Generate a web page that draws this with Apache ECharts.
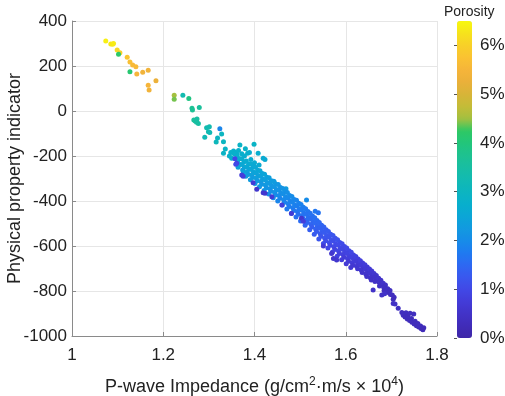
<!DOCTYPE html>
<html>
<head>
<meta charset="utf-8">
<script src="https://cdn.jsdelivr.net/npm/echarts@6/dist/echarts.min.js"></script>
<style>
  html, body { margin: 0; padding: 0; background: #fff; }
  #chart { width: 505px; height: 396px; }
</style>
</head>
<body>
<div id="chart"></div>
<script>
// [impedance (x1e4), physical property indicator, porosity %]
var upperPoints = [
  [1.074, 311, 6.4], [1.085, 298, 6.3], [1.089, 297, 6.3], [1.091, 300, 6.35],
  [1.099, 271, 6.1], [1.105, 259, 6.0], [1.102, 252, 4.2], [1.121, 239, 5.8],
  [1.127, 218, 5.7], [1.133, 204, 5.6], [1.140, 197, 5.6], [1.127, 175, 4.1],
  [1.142, 164, 5.5], [1.155, 172, 5.4], [1.167, 181, 5.4], [1.184, 135, 5.3],
  [1.167, 114, 5.5], [1.169, 93, 5.4], [1.224, 70, 4.5], [1.224, 52, 4.4],
  [1.243, 70, 3.3], [1.256, 56, 3.9], [1.263, 12, 3.7], [1.264, 5, 3.7],
  [1.279, 16, 3.6], [1.267, -40, 3.6], [1.270, -44, 3.6], [1.274, -35, 3.5],
  [1.277, -56, 3.5], [1.273, -50, 3.5], [1.295, -74, 3.3], [1.301, -70, 3.3],
  [1.299, -92, 3.3], [1.302, -95, 3.2], [1.291, -117, 3.2], [1.324, -79, 1.9],
  [1.328, -102, 3.0], [1.316, -138, 3.1], [1.319, -120, 3.0], [1.332, -137, 3.0],
  [1.336, -169, 2.9], [1.332, -188, 2.9], [1.348, -184, 2.8], [1.354, -178, 2.8],
  [1.358, -184, 2.8], [1.361, -192, 2.7], [1.356, -191, 2.8], [1.368, -151, 2.9],
  [1.399, -148, 2.9], [1.408, -188, 2.7], [1.385, -188, 2.8], [1.389, -184, 2.7],
  [1.423, -215, 2.6], [1.419, -210, 2.6], [1.443, -314, 2.4], [1.469, -345, 2.3],
  [1.514, -396, 2.0], [1.533, -445, 1.7], [1.540, -452, 1.65],
  [1.345, -200, 2.8], [1.350, -210, 2.75], [1.365, -175, 2.8], [1.372, -190, 2.75],
  [1.378, -200, 2.7], [1.392, -215, 2.65], [1.400, -230, 2.6], [1.410, -240, 2.6],
  [1.380, -168, 2.85]
];

var bandPoints = [
  [1.362, -200, 2.75], [1.367, -212, 2.7], [1.363, -225, 2.6], [1.368, -238, 2.5], [1.364, -250, 2.45],
  [1.372, -212, 2.7], [1.377, -226, 2.65], [1.373, -238, 2.55], [1.378, -250, 2.5], [1.374, -262, 2.35], [1.376, -272, 2.4],
  [1.382, -222, 2.65], [1.387, -236, 2.6], [1.383, -248, 2.55], [1.388, -258, 2.5], [1.384, -270, 2.4], [1.386, -282, 2.3], [1.381, -290, 2.35],
  [1.392, -236, 2.6], [1.397, -248, 2.55], [1.393, -260, 2.5], [1.398, -272, 2.45], [1.394, -283, 2.4], [1.396, -295, 2.3], [1.391, -306, 2.3],
  [1.402, -250, 2.55], [1.407, -263, 2.5], [1.403, -275, 2.45], [1.408, -287, 2.4], [1.404, -298, 2.35], [1.406, -310, 2.25], [1.401, -322, 2.25],
  [1.412, -265, 2.5], [1.417, -278, 2.45], [1.413, -290, 2.4], [1.418, -302, 2.35], [1.414, -313, 2.3], [1.416, -325, 2.2], [1.411, -337, 2.2],
  [1.422, -281, 2.45], [1.427, -294, 2.4], [1.423, -306, 2.35], [1.428, -318, 2.3], [1.424, -329, 2.25], [1.426, -341, 2.15], [1.421, -353, 2.15],
  [1.432, -297, 2.35], [1.437, -310, 2.3], [1.433, -322, 2.25], [1.438, -334, 2.2], [1.434, -345, 2.15], [1.436, -357, 2.05], [1.431, -369, 2.05],
  [1.442, -312, 2.3], [1.447, -325, 2.25], [1.443, -337, 2.2], [1.448, -349, 2.15], [1.444, -361, 2.1], [1.446, -373, 2.0], [1.441, -385, 2.0],
  [1.452, -327, 2.2], [1.457, -340, 2.15], [1.453, -352, 2.1], [1.458, -364, 2.05], [1.454, -376, 2.0], [1.456, -388, 1.9], [1.451, -400, 1.9],
  [1.462, -344, 2.15], [1.467, -357, 2.1], [1.463, -369, 2.05], [1.468, -382, 2.0], [1.464, -394, 1.95], [1.466, -406, 1.85], [1.461, -418, 1.85],
  [1.472, -362, 2.05], [1.477, -375, 2.0], [1.473, -387, 1.95], [1.478, -400, 1.9], [1.474, -412, 1.85], [1.476, -424, 1.75], [1.471, -436, 1.75],
  [1.482, -380, 2.0], [1.487, -393, 1.95], [1.483, -405, 1.9], [1.488, -418, 1.85], [1.484, -430, 1.8], [1.486, -442, 1.7], [1.481, -454, 1.7],
  [1.492, -397, 1.9], [1.497, -410, 1.85], [1.493, -422, 1.8], [1.498, -435, 1.75], [1.494, -447, 1.7], [1.496, -459, 1.6], [1.491, -471, 1.6],
  [1.502, -415, 1.85], [1.507, -428, 1.8], [1.503, -440, 1.75], [1.508, -453, 1.7], [1.504, -465, 1.65], [1.506, -477, 1.55], [1.501, -489, 1.55],
  [1.512, -434, 1.75], [1.517, -447, 1.7], [1.513, -459, 1.65], [1.518, -472, 1.6], [1.514, -484, 1.55], [1.516, -496, 1.45], [1.511, -508, 1.45],
  [1.522, -454, 1.65], [1.527, -467, 1.6], [1.523, -479, 1.55], [1.528, -492, 1.5], [1.524, -504, 1.45], [1.526, -516, 1.35], [1.521, -528, 1.35],
  [1.532, -474, 1.6], [1.537, -487, 1.55], [1.533, -499, 1.5], [1.538, -512, 1.45], [1.534, -524, 1.4], [1.536, -536, 1.3], [1.531, -548, 1.3],
  [1.542, -495, 1.5], [1.547, -508, 1.45], [1.543, -520, 1.4], [1.548, -533, 1.35], [1.544, -545, 1.3], [1.546, -557, 1.2], [1.541, -569, 1.2],
  [1.552, -515, 1.4], [1.557, -528, 1.35], [1.553, -540, 1.3], [1.558, -553, 1.25], [1.554, -565, 1.2], [1.556, -577, 1.1], [1.551, -589, 1.1],
  [1.562, -535, 1.3], [1.567, -548, 1.25], [1.563, -560, 1.2], [1.568, -573, 1.15], [1.564, -585, 1.1], [1.566, -597, 1.0], [1.561, -609, 1.0],
  [1.572, -553, 1.2], [1.577, -566, 1.15], [1.573, -578, 1.1], [1.578, -591, 1.05], [1.574, -603, 1.0], [1.576, -615, 0.9], [1.571, -627, 0.9],
  [1.582, -572, 1.15], [1.587, -584, 1.1], [1.583, -596, 1.05], [1.588, -609, 1.0], [1.584, -621, 0.95], [1.586, -633, 0.85], [1.581, -645, 0.85],
  [1.592, -590, 1.05], [1.597, -602, 1.0], [1.593, -614, 0.95], [1.598, -626, 0.9], [1.594, -638, 0.85], [1.596, -650, 0.75], [1.591, -661, 0.75],
  [1.602, -609, 1.0], [1.607, -621, 0.95], [1.603, -633, 0.9], [1.608, -644, 0.85], [1.604, -656, 0.8], [1.606, -668, 0.7], [1.601, -679, 0.7],
  [1.612, -628, 0.95], [1.617, -640, 0.9], [1.613, -651, 0.85], [1.618, -662, 0.8], [1.614, -674, 0.75], [1.616, -686, 0.65], [1.611, -696, 0.65],
  [1.622, -647, 0.85], [1.627, -658, 0.8], [1.623, -669, 0.75], [1.628, -679, 0.7], [1.624, -690, 0.65], [1.626, -701, 0.6],
  [1.632, -665, 0.8], [1.637, -675, 0.75], [1.633, -686, 0.7], [1.638, -696, 0.65], [1.634, -707, 0.6], [1.636, -718, 0.55],
  [1.642, -683, 0.75], [1.647, -693, 0.7], [1.643, -703, 0.65], [1.648, -713, 0.6], [1.644, -724, 0.55], [1.646, -735, 0.5],
  [1.652, -702, 0.7], [1.657, -711, 0.65], [1.653, -721, 0.6], [1.658, -731, 0.55], [1.654, -741, 0.5], [1.656, -751, 0.45],
  [1.662, -722, 0.6], [1.667, -731, 0.55], [1.663, -740, 0.5], [1.668, -749, 0.5], [1.664, -758, 0.45],
  [1.672, -743, 0.55], [1.677, -752, 0.5], [1.673, -761, 0.45], [1.678, -769, 0.45], [1.674, -778, 0.4],
  [1.682, -765, 0.5], [1.687, -773, 0.45], [1.683, -782, 0.4], [1.688, -790, 0.4], [1.684, -798, 0.35],
  [1.692, -790, 0.4], [1.697, -798, 0.38], [1.693, -807, 0.35], [1.698, -815, 0.35],
  [1.702, -818, 0.35], [1.706, -828, 0.33], [1.704, -837, 0.3]
];

var lowerOutliers = [
  [1.357, -212, 1.0], [1.361, -232, 0.9], [1.359, -237, 1.0], [1.372, -284, 0.8],
  [1.375, -290, 0.8], [1.397, -319, 0.7], [1.405, -348, 0.6], [1.419, -363, 0.6],
  [1.423, -366, 0.6], [1.438, -381, 0.7], [1.460, -418, 0.8], [1.481, -455, 0.7],
  [1.503, -477, 0.6], [1.507, -490, 0.8], [1.551, -600, 0.7], [1.569, -633, 0.6],
  [1.573, -655, 0.6], [1.580, -662, 0.6], [1.660, -796, 0.5], [1.679, -818, 0.45],
  [1.685, -812, 0.5], [1.704, -855, 0.45], [1.708, -858, 0.45], [1.715, -877, 0.4]
];

var tailPoints = [
  [1.723, -896, 0.35], [1.732, -897, 0.35], [1.741, -899, 0.35], [1.749, -902, 0.35],
  [1.726, -908, 0.35], [1.730, -916, 0.3], [1.735, -924, 0.3], [1.740, -931, 0.3],
  [1.745, -939, 0.3], [1.750, -947, 0.3], [1.755, -954, 0.3], [1.760, -960, 0.3],
  [1.765, -967, 0.25], [1.769, -972, 0.25], [1.736, -912, 0.3], [1.744, -922, 0.3],
  [1.752, -934, 0.3], [1.758, -944, 0.3], [1.764, -955, 0.3], [1.771, -963, 0.25]
];

var xRange = [1, 1.8];
var yRange = [-1000, 400];
var porosityRange = [0, 6.5];

// parula-like colormap, evenly spaced over porosityRange
var colormap = [
  '#3e26a8', '#402cb8', '#4233c8', '#433cd8', '#4148e6', '#3a58ee', '#2d68f2',
  '#1f7bf0', '#168ce8', '#129ae0', '#0ba6d6', '#08afcc', '#0cb5c0', '#12bab2',
  '#18bea2', '#1ec290', '#22c67a', '#2ec864', '#a4c040', '#c4bc38', '#d8b438',
  '#eab03a', '#f6b53a', '#fac232', '#f8d028', '#f6e31c', '#f8f80e'
];

var allPoints = upperPoints.concat(bandPoints, lowerOutliers, tailPoints);

var font = "'Liberation Sans', Arial, sans-serif";
var chart = echarts.init(document.getElementById('chart'));

var option = {
  animation: false,
  backgroundColor: '#fff',
  title: {
    text: 'Porosity',
    left: 439,
    top: 0,
    textStyle: { fontFamily: font, fontSize: 14, fontWeight: 'normal', color: '#222' }
  },
  grid: [
    { left: 72, top: 21, width: 365, height: 315, containLabel: false, outerBoundsMode: 'none' },
    { left: 457, top: 21, width: 15, height: 317, containLabel: false, outerBoundsMode: 'none' }
  ],
  xAxis: [{
    gridIndex: 0,
    type: 'value',
    min: xRange[0], max: xRange[1], interval: 0.2,
    name: 'P-wave Impedance (g/cm{sup|2}·m/s × 10{sup|4})',
    nameLocation: 'middle',
    nameGap: 40,
    nameMoveOverlap: false,
    nameTextStyle: {
      fontFamily: font, fontSize: 18, color: '#222',
      rich: { sup: { fontFamily: font, fontSize: 12, verticalAlign: 'top', padding: [0, 0, 10, 0], color: '#222' } }
    },
    axisLine: { show: true, onZero: false, lineStyle: { color: '#8a8a8a', width: 1 } },
    axisTick: { show: true, inside: true, length: 4, lineStyle: { color: '#8a8a8a' } },
    axisLabel: { fontFamily: font, fontSize: 17, color: '#222', margin: 11 },
    splitLine: { show: true, lineStyle: { color: '#e6e6e6', width: 1 } }
  }, {
    gridIndex: 1, type: 'value', min: 0, max: 1, show: false
  }],
  yAxis: [{
    gridIndex: 0,
    type: 'value',
    min: yRange[0], max: yRange[1], interval: 200,
    name: 'Physical property indicator',
    nameLocation: 'middle',
    nameGap: 48,
    nameMoveOverlap: false,
    nameTextStyle: { fontFamily: font, fontSize: 18, color: '#222' },
    axisLine: { show: true, onZero: false, lineStyle: { color: '#8a8a8a', width: 1 } },
    axisTick: { show: true, inside: true, length: 4, lineStyle: { color: '#8a8a8a' } },
    axisLabel: {
      fontFamily: font, fontSize: 17, color: '#222', margin: 5,
      formatter: function (v) { return String(v); }
    },
    splitLine: { show: true, lineStyle: { color: '#e6e6e6', width: 1 } }
  }, {
    gridIndex: 1,
    type: 'value',
    position: 'right',
    min: porosityRange[0], max: porosityRange[1], interval: 1,
    z: 10,
    axisLine: { show: false },
    axisTick: { show: true, inside: true, length: 3, lineStyle: { color: '#555' } },
    axisLabel: { fontFamily: font, fontSize: 17, color: '#222', margin: 8, formatter: '{value}%', showMaxLabel: false },
    splitLine: { show: false }
  }],
  visualMap: {
    type: 'continuous',
    seriesIndex: 0,
    dimension: 2,
    min: porosityRange[0],
    max: porosityRange[1],
    calculable: false,
    hoverLink: false,
    left: 457,
    top: 21,
    padding: 0,
    itemWidth: 15,
    itemHeight: 317,
    inRange: { color: colormap }
  },
  series: [{
    type: 'scatter',
    xAxisIndex: 0,
    yAxisIndex: 0,
    symbol: 'circle',
    symbolSize: 5,
    itemStyle: { opacity: 1 },
    data: allPoints
  }, {
    type: 'scatter',
    xAxisIndex: 1,
    yAxisIndex: 1,
    data: []
  }]
};

chart.setOption(option);
</script>
</body>
</html>
